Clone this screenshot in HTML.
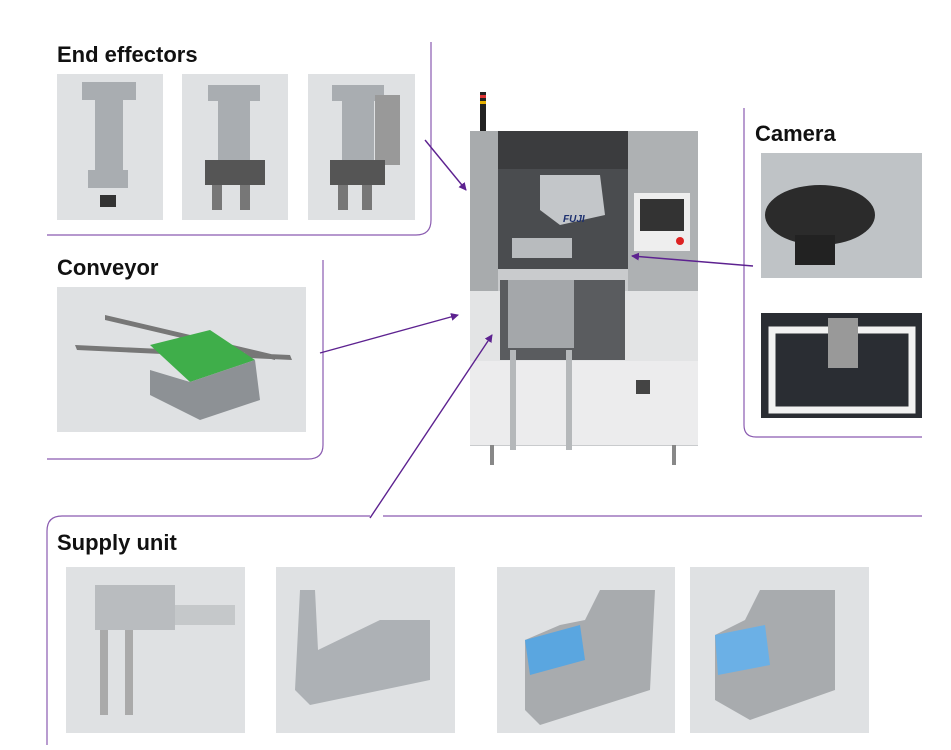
<!DOCTYPE html>
<html><head><style>
body{margin:0;background:#fff;width:951px;height:745px;overflow:hidden;font-family:"Liberation Sans",sans-serif}
</style></head><body>
<svg width="951" height="745" viewBox="0 0 951 745" xmlns="http://www.w3.org/2000/svg">
<defs><marker id="a" markerWidth="8" markerHeight="8" refX="7" refY="4" orient="auto" markerUnits="userSpaceOnUse"><path d="M0,0 L8,4 L0,8 Z" fill="#5d2290"/></marker></defs>
<g font-weight="bold" font-size="22" fill="#111">
<text x="57" y="62">End effectors</text>
<text x="57" y="275">Conveyor</text>
<text x="755" y="141">Camera</text>
<text x="57" y="550">Supply unit</text>
</g>
<g fill="none" stroke="#8a5bb0" stroke-width="1.2">
<path d="M431,42 V220 Q431,235 416,235 H47"/>
<path d="M323,260 V445 Q323,459 308,459 H47"/>
<path d="M744,108 V425 Q744,437 756,437 H922"/>
<path d="M383,516 H922"/>
<path d="M370,516 H62 Q47,516 47,531 V745"/>
</g>
<g fill="#dfe1e3">
<rect x="57" y="74" width="106" height="146"/>
<rect x="182" y="74" width="106" height="146"/>
<rect x="308" y="74" width="107" height="146"/>
<rect x="57" y="287" width="249" height="145"/>
<rect x="761" y="153" width="161" height="125" fill="#bfc3c6"/>
<rect x="761" y="313" width="161" height="105" fill="#2a2d33"/>
<rect x="66" y="567" width="179" height="166"/>
<rect x="276" y="567" width="179" height="166"/>
<rect x="497" y="567" width="178" height="166"/>
<rect x="690" y="567" width="179" height="166"/>
</g>
<g fill="#a9adb1">
<rect x="82" y="82" width="54" height="18"/><rect x="95" y="100" width="28" height="70"/><rect x="88" y="170" width="40" height="18"/><rect x="100" y="195" width="16" height="12" fill="#333"/>
<rect x="208" y="85" width="52" height="16"/><rect x="218" y="101" width="32" height="60"/><rect x="205" y="160" width="60" height="25" fill="#555"/><rect x="212" y="185" width="10" height="25" fill="#777"/><rect x="240" y="185" width="10" height="25" fill="#777"/>
<rect x="332" y="85" width="52" height="16"/><rect x="342" y="101" width="32" height="60"/><rect x="375" y="95" width="25" height="70" fill="#999"/><rect x="330" y="160" width="55" height="25" fill="#555"/><rect x="338" y="185" width="10" height="25" fill="#777"/><rect x="362" y="185" width="10" height="25" fill="#777"/>
</g>
<path d="M75,345 L290,355 L292,360 L77,350Z M105,315 L275,355 L275,360 L105,320Z" fill="#777"/>
<path d="M150,345 L210,330 L255,360 L190,382Z" fill="#3fae4a"/>
<path d="M150,370 L190,382 L255,360 L260,400 L200,420 L150,395Z" fill="#8d9195"/>
<ellipse cx="820" cy="215" rx="55" ry="30" fill="#2b2b2b"/><rect x="795" y="235" width="40" height="30" fill="#222"/>
<rect x="772" y="330" width="140" height="80" fill="none" stroke="#f2f2f2" stroke-width="7"/><rect x="828" y="318" width="30" height="50" fill="#999"/>
<rect x="95" y="585" width="80" height="45" fill="#b9bcbf"/><rect x="175" y="605" width="60" height="20" fill="#c5c8ca"/><rect x="100" y="630" width="8" height="85" fill="#aaa"/><rect x="125" y="630" width="8" height="85" fill="#aaa"/>
<path d="M300,590 L315,590 L318,650 L380,620 L430,620 L430,680 L310,705 L295,690Z" fill="#adb1b5"/>
<path d="M525,640 L560,625 L585,620 L600,590 L655,590 L650,690 L540,725 L525,710Z" fill="#a8abae"/><path d="M525,640 L580,625 L585,660 L530,675Z" fill="#5aa6e0"/>
<path d="M715,635 L745,620 L760,590 L835,590 L835,690 L750,720 L715,700Z" fill="#a8abae"/><path d="M715,635 L765,625 L770,665 L718,675Z" fill="#6bb0e6"/>
<rect x="480" y="92" width="6" height="40" fill="#222"/><rect x="480" y="95" width="6" height="3" fill="#d33"/><rect x="480" y="101" width="6" height="3" fill="#e5b000"/>
<rect x="470" y="131" width="228" height="315" fill="#c9cbcd"/>
<rect x="470" y="131" width="28" height="160" fill="#a8abad"/>
<rect x="628" y="131" width="70" height="160" fill="#aeb1b3"/>
<rect x="498" y="131" width="130" height="38" fill="#3b3c3e"/>
<rect x="498" y="169" width="130" height="100" fill="#4a4c4f"/>
<path d="M540,175 L600,175 L605,215 L560,225 L540,210Z" fill="#c3c6c9"/><text x="563" y="222" font-size="10" font-weight="bold" font-style="italic" fill="#1c2f6e">FUJI</text>
<rect x="512" y="238" width="60" height="20" fill="#b8bbbe"/>
<rect x="634" y="193" width="56" height="58" fill="#eee"/><rect x="640" y="199" width="44" height="32" fill="#333"/><circle cx="680" cy="241" r="4" fill="#d22"/>
<rect x="470" y="291" width="228" height="70" fill="#e3e4e5"/>
<rect x="500" y="280" width="125" height="80" fill="#5a5c5f"/>
<rect x="508" y="280" width="66" height="68" fill="#a4a7aa"/>
<rect x="470" y="361" width="228" height="84" fill="#ececed"/>
<rect x="510" y="350" width="6" height="100" fill="#b5b8ba"/><rect x="566" y="350" width="6" height="100" fill="#b5b8ba"/>
<rect x="636" y="380" width="14" height="14" fill="#444"/>
<rect x="490" y="445" width="4" height="20" fill="#888"/><rect x="672" y="445" width="4" height="20" fill="#888"/>
<g stroke="#5d2290" stroke-width="1.4" marker-end="url(#a)">
<line x1="425" y1="140" x2="466" y2="190"/>
<line x1="320" y1="353" x2="458" y2="315"/>
<line x1="370" y1="518" x2="492" y2="335"/>
<line x1="753" y1="266" x2="632" y2="256"/>
</g>
</svg>
</body></html>
